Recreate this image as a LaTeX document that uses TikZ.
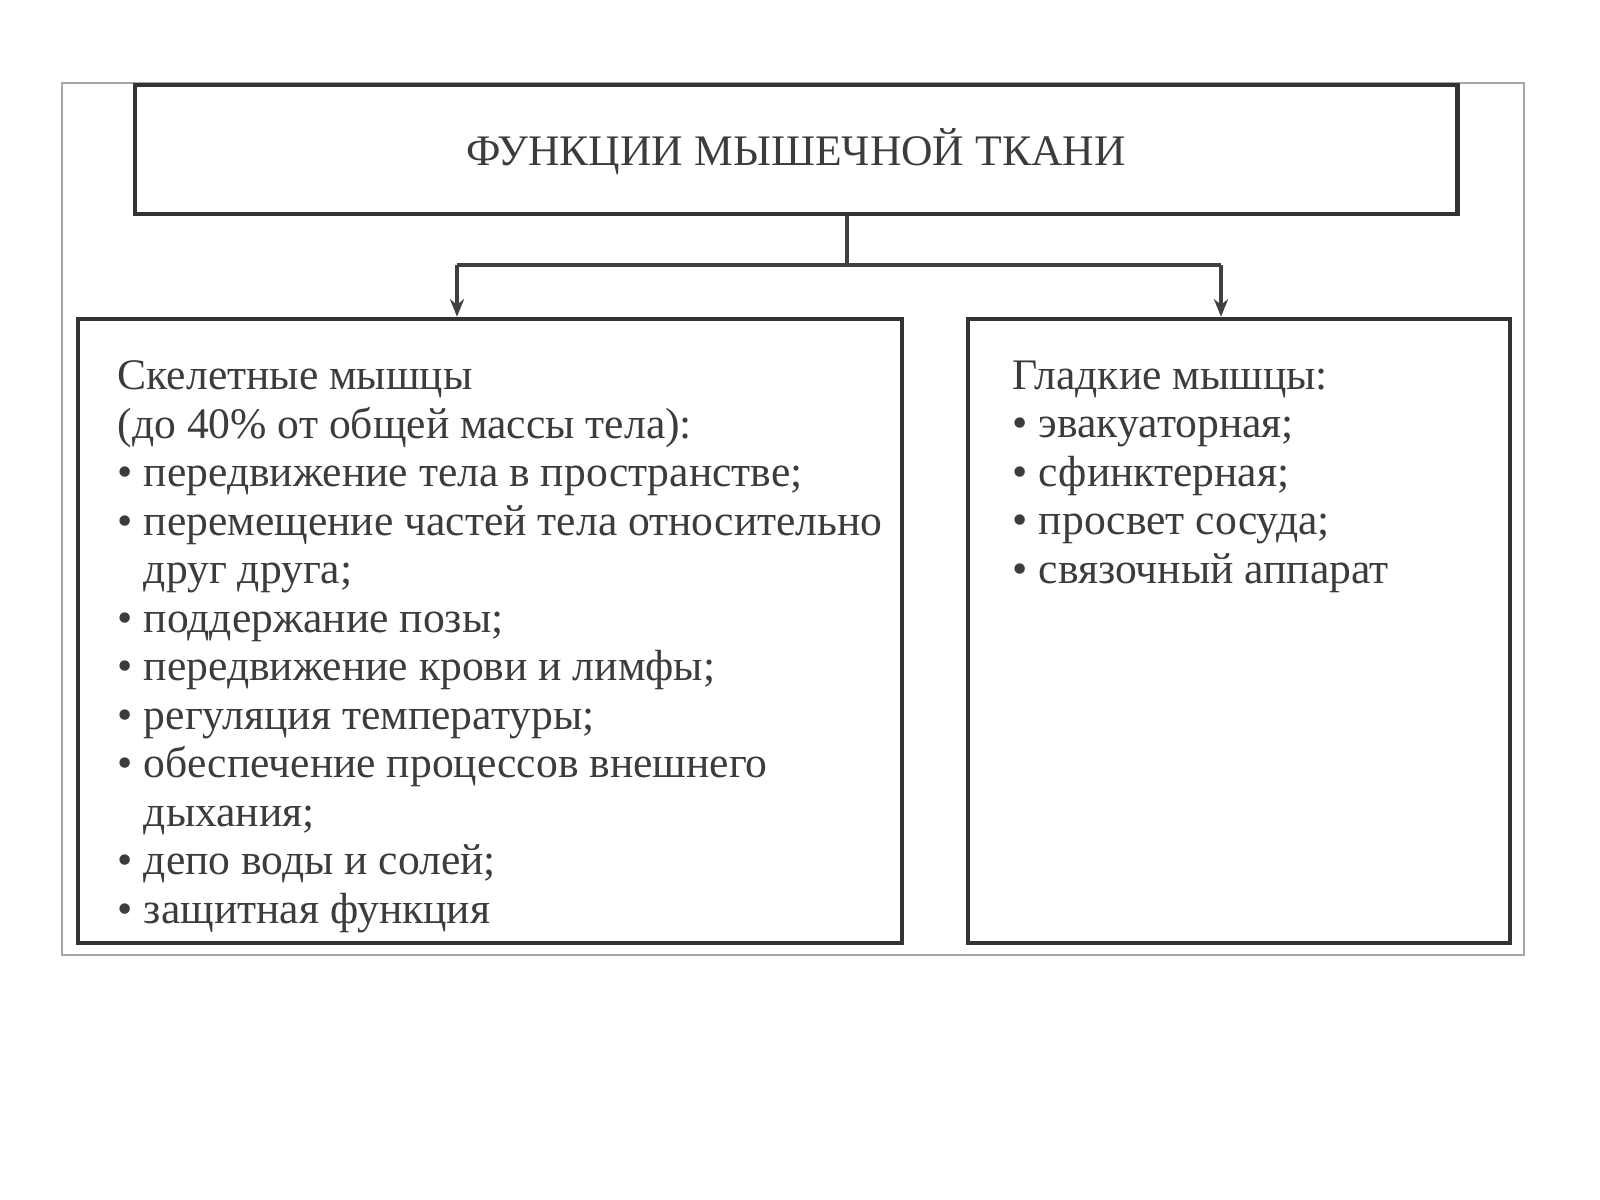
\documentclass[tikz,border=0pt]{standalone}
\usepackage{fontspec}
\setmainfont{Liberation Serif}
\usetikzlibrary{arrows.meta}
\definecolor{tx}{RGB}{60,60,60}
\begin{document}
\begin{tikzpicture}[x=0.01cm,y=-0.01cm,
  box/.style={draw=black!80,line width=1.2pt,inner sep=0pt},
  txt/.style={text=tx,font=\fontsize{12.4}{13.8}\selectfont,align=left,anchor=north west,inner sep=0pt},
  arr/.style={draw=black!75,line width=1pt,-{Stealth[length=5pt,width=4pt]}}]
\useasboundingbox (0,0) rectangle (1600,1200);
\draw[black!35,line width=0.6pt] (62,83) rectangle (1524,955);
\node[box,minimum width=13.22cm,minimum height=1.29cm] (top) at (796,149.5) {};
\node[text=tx,font=\fontsize{12.4}{14}\selectfont] (title) at (796,152) {ФУНКЦИИ МЫШЕЧНОЙ ТКАНИ};
\node[box,minimum width=8.24cm,minimum height=6.24cm] (lbox) at (490,631) {};
\node[box,minimum width=5.42cm,minimum height=6.24cm] (rbox) at (1239,631) {};
\coordinate (c1) at (847,265);
\coordinate (l1) at (457,265);
\coordinate (r1) at (1221,265);
\draw[black!75,line width=1pt] (top.south -| c1) -- (c1);
\draw[black!75,line width=1pt] (l1) -- (r1);
\draw[arr] (l1) -- (lbox.north -| l1);
\draw[arr] (r1) -- (rbox.north -| r1);
\node[txt] (left) at (117,360) {Скелетные мышцы\\(до 40\% от общей массы тела):\\• передвижение тела в пространстве;\\• перемещение частей тела относительно\\\hspace*{0.6em}друг друга;\\• поддержание позы;\\• передвижение крови и лимфы;\\• регуляция температуры;\\• обеспечение процессов внешнего\\\hspace*{0.6em}дыхания;\\• депо воды и солей;\\• защитная функция};
\node[txt] (right) at (1012,360) {Гладкие мышцы:\\• эвакуаторная;\\• сфинктерная;\\• просвет сосуда;\\• связочный аппарат};
\end{tikzpicture}
\end{document}
